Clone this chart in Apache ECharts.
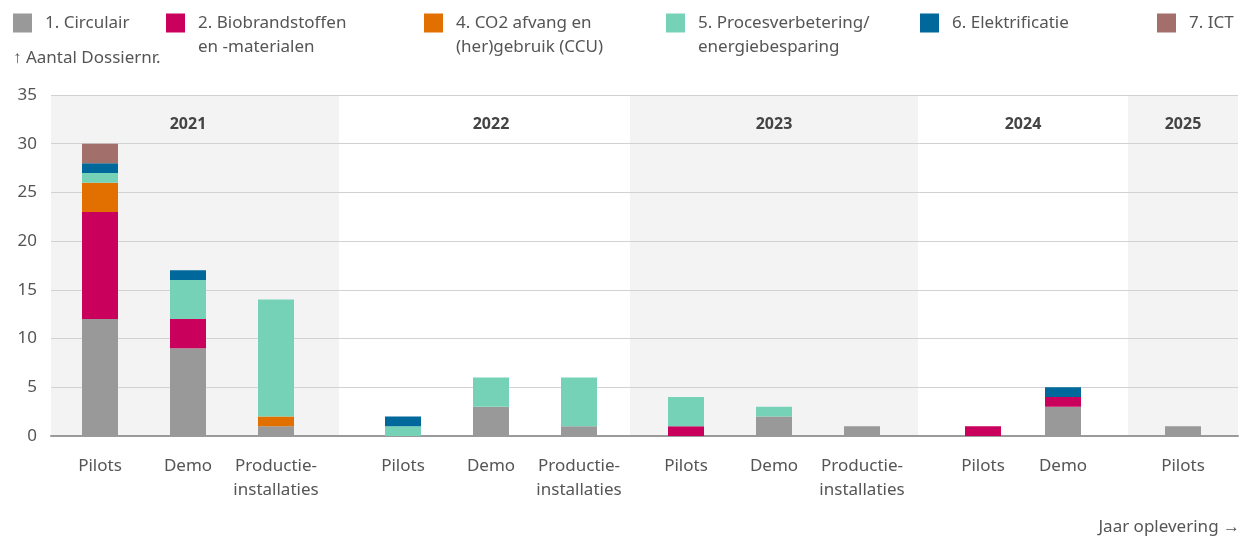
<!DOCTYPE html>
<html>
<head>
<meta charset="utf-8">
<script src="https://cdn.jsdelivr.net/npm/echarts@6/dist/echarts.min.js"></script>
<style>html,body{margin:0;padding:0;background:#fff}#c{width:1254px;height:536px}</style>
</head>
<body>
<div id="c"></div>
<script>
// ---- data ----
const years = ['2021', '2022', '2023', '2024', '2025'];
const categoryYear = ['2021','2021','2021','2022','2022','2022','2023','2023','2023','2024','2024','2025'];
const categoryType = ['Pilots','Demo','Productie-\ninstallaties','Pilots','Demo','Productie-\ninstallaties','Pilots','Demo','Productie-\ninstallaties','Pilots','Demo','Pilots'];
const seriesNames = ['1. Circulair', '2. Biobrandstoffen\nen -materialen', '4. CO2 afvang en\n(her)gebruik (CCU)', '5. Procesverbetering/\nenergiebesparing', '6. Elektrificatie', '7. ICT'];
const circulair = [12, 9, 1, 0, 3, 1, 0, 2, 1, 0, 3, 1];
const biobrandstoffen = [11, 3, 0, 0, 0, 0, 1, 0, 0, 1, 1, 0];
const co2 = [3, 0, 1, 0, 0, 0, 0, 0, 0, 0, 0, 0];
const procesverbetering = [1, 4, 12, 1, 3, 5, 3, 1, 0, 0, 0, 0];
const elektrificatie = [1, 1, 0, 1, 0, 0, 0, 0, 0, 0, 1, 0];
const ict = [2, 0, 0, 0, 0, 0, 0, 0, 0, 0, 0, 0];
const yTicks = [0, 5, 10, 15, 20, 25, 30, 35];

// ---- styling / layout ----
const seriesValues = [circulair, biobrandstoffen, co2, procesverbetering, elektrificatie, ict];
const colors = ['#999999', '#ca005d', '#e17000', '#76d2b6', '#01689b', '#a36f6b'];
// background bands (one per year)
const bandLeft = [51, 339, 630, 918, 1128];
const bandWidth = [288, 291, 288, 210, 110];
const bandColor = ['#f3f3f3', '#ffffff', '#f3f3f3', '#ffffff', '#f3f3f3'];
// bar areas (one per year)
const barLeft = [56, 359, 642, 943, 1139];
const barAreaWidth = [264, 264, 264, 160, 88];
const legendLeft = [13, 166, 424, 666, 920, 1157];
const font = '"Noto Sans", "Open Sans", sans-serif';

const grids = [], xAxes = [], yAxes = [], series = [];
// band grids: index 0..4
years.forEach((yr, g) => {
  grids.push({
    left: bandLeft[g], width: bandWidth[g], top: 95, bottom: 100,
    show: true, backgroundColor: bandColor[g], borderWidth: 0
  });
  xAxes.push({
    type: 'category', gridIndex: g, data: [''],
    axisLine: { show: true, lineStyle: { color: '#9a9a9a', width: 2 } },
    axisTick: { show: false }, axisLabel: { show: false }
  });
  yAxes.push({
    type: 'value', gridIndex: g, min: 0, max: 35, interval: 5,
    axisLine: { show: false }, axisTick: { show: false },
    axisLabel: { show: g === 0, color: '#555', fontSize: 17, fontFamily: font, margin: 14,
      formatter: v => yTicks.indexOf(v) >= 0 ? String(v) : '' },
    splitLine: { lineStyle: { color: '#d2d2d2', width: 1 } }
  });
});
// bar grids: index 5..9
years.forEach((yr, g) => {
  const gi = years.length + g;
  const idx = [];
  categoryYear.forEach((y, i) => { if (y === yr) idx.push(i); });
  grids.push({ left: barLeft[g], width: barAreaWidth[g], top: 95, bottom: 100, show: false });
  const xb = xAxes.length;
  xAxes.push({
    type: 'category', gridIndex: gi, data: idx.map(i => categoryType[i]),
    axisLine: { show: false }, axisTick: { show: false },
    axisLabel: { color: '#555', fontSize: 17, fontFamily: font, lineHeight: 24, margin: 18, interval: 0 }
  });
  xAxes.push({
    type: 'category', gridIndex: gi, position: 'top', data: [yr],
    axisLine: { show: false }, axisTick: { show: false },
    axisLabel: { inside: true, margin: 21, color: '#444', fontSize: 16, fontWeight: 'bold', fontFamily: font }
  });
  const yb = yAxes.length;
  yAxes.push({
    type: 'value', gridIndex: gi, min: 0, max: 35, interval: 5,
    axisLine: { show: false }, axisTick: { show: false },
    axisLabel: { show: false }, splitLine: { show: false }
  });
  seriesNames.forEach((name, s) => {
    series.push({
      name: name, type: 'bar', stack: 'y' + yr,
      xAxisIndex: xb, yAxisIndex: yb,
      barWidth: 36,
      itemStyle: { color: colors[s] },
      data: idx.map(i => seriesValues[s][i]),
      emphasis: { disabled: true }
    });
  });
});

const legends = seriesNames.map((name, s) => {
  const twoLine = name.indexOf('\n') >= 0;
  return {
    left: legendLeft[s], top: 11, itemWidth: 19, itemHeight: twoLine ? 43 : 19, padding: 0,
    icon: twoLine ? 'path://M0,0h19v19h-19zM0,43' : 'rect',
    selectedMode: false,
    data: [name],
    textStyle: { color: '#555', fontSize: 17, fontFamily: font, lineHeight: 24, padding: [0, 0, 0, 8] }
  };
});

const chart = echarts.init(document.getElementById('c'), null, { renderer: 'canvas' });
chart.setOption({
  animation: false,
  color: colors,
  title: [
    { text: '↑ Aantal Dossiernr.', left: 13, top: 50, padding: 0,
      textStyle: { color: '#555', fontSize: 17, fontWeight: 'normal', fontFamily: font } },
    { text: 'Jaar oplevering →', right: 14, top: 519, padding: 0,
      textStyle: { color: '#555', fontSize: 17, fontWeight: 'normal', fontFamily: font } }
  ],
  legend: legends,
  grid: grids,
  xAxis: xAxes,
  yAxis: yAxes,
  series: series
});
</script>
</body>
</html>
